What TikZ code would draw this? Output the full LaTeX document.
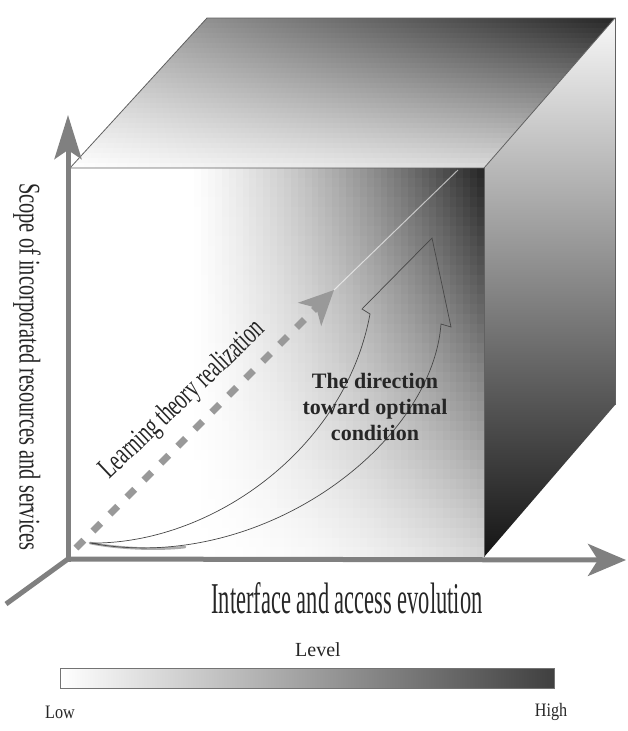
\documentclass[tikz,border=0pt]{standalone}
\usepackage{fontspec}
\setmainfont{Liberation Serif}
\usetikzlibrary{arrows.meta,shadings}

\begin{document}
\begin{tikzpicture}[x=1pt,y=1pt,
  edge/.style={draw=black!62, line width=0.8pt},
  axisline/.style={draw=black!50, line width=5pt},
  lbl/.style={text=black!85, inner sep=0pt},
  curvearrow/.style={draw=black!72, line width=0.7pt}]
\useasboundingbox (0,0) rectangle (627,-731);

% cube corners
\coordinate (FL) at (70,-168);
\coordinate (FR) at (484,-168);
\coordinate (BL) at (70,-557);
\coordinate (BR) at (484,-557);
\coordinate (TL) at (207,-18);
\coordinate (TR) at (615,-18);
\coordinate (RB) at (615,-405);

% top face: horizontal bands, darker towards the back and to the right
\begin{scope}
  \clip (FL) -- (FR) -- (TR) -- (TL) -- cycle;
  \foreach \j in {0,...,29} {
    \pgfmathsetmacro{\ya}{18+\j*5}
    \pgfmathsetmacro{\v}{(\j+0.5)/30}
    \pgfmathsetmacro{\dl}{30*(1-\v)}
    \pgfmathsetmacro{\dr}{85-66*\v}
    \shade[left color=black!\dl, right color=black!\dr]
      (70,-\ya) rectangle (615,-\ya-5.6);
  }
\end{scope}

% front face: white, with a grid of flat cells that darken towards the
% top right corner
\fill[white] (FL) rectangle (BR);
\begin{scope}
  \clip (FL) rectangle (BR);
  \foreach \i in {18,...,59} {
    \pgfmathsetmacro{\xa}{70+\i*6.9}
    \pgfmathsetmacro{\w}{max(0,((\i+0.5)/60-0.3)/0.7)}
    \pgfmathsetmacro{\dt}{86*\w*(0.6+0.4*\w)}
    \pgfmathsetmacro{\db}{16*\w*\w}
    \foreach \j in {0,...,39} {
      \pgfmathsetmacro{\ya}{168+\j*9.725}
      \pgfmathsetmacro{\dd}{\dt+(\db-\dt)*(\j+0.5)/40}
      \fill[black!\dd] (\xa,-\ya) rectangle (\xa+7.3,-\ya-10.1);
    }
  }
\end{scope}

% right face
\shade[top color=black!3, bottom color=black!92] (FR) -- (TR) -- (RB) -- (BR) -- cycle;

% cube edges
\draw[edge] (FL) -- (TL) -- (TR) -- (FR) -- cycle;
\draw[edge] (TR) -- (RB);
\draw[edge] (FR) -- (BR);

% axes
\coordinate (O) at (68,-559);
\coordinate (Obelow) at (68,-561.5);
\coordinate (Ytip) at (68,-115);
\coordinate (Xtip) at (626,-560);
\coordinate (Zend) at (6,-604);
\draw[axisline] (O) -- (Zend);
\draw[axisline, -{Stealth[length=44pt,width=27pt,inset=9pt]}] (Obelow) -- (Ytip);
\draw[axisline, -{Stealth[length=38pt,width=32pt,inset=10pt]}] (O) -- (Xtip);

% learning theory direction
\coordinate (Ds) at (76,-548);
\coordinate (Dt) at (334,-290);
\coordinate (Dc) at (458,-170);
\draw[white, opacity=0.6, line width=1pt] (Dt) -- (Dc);
\draw[black!40, line width=7pt, dash pattern=on 11pt off 13pt,
      -{Stealth[length=34pt,width=32pt,inset=9pt]}] (Ds) -- (Dt);

% hollow curved arrow
\coordinate (S) at (90,-543);
\coordinate (Ln) at (370,-314);
\coordinate (Lb) at (362,-309);
\coordinate (Tip) at (432,-238);
\coordinate (Rb) at (451,-327);
\coordinate (Rn) at (441,-324);
\coordinate (Se) at (185,-547);
\draw[black!60, line width=2.6pt, opacity=0.55, line cap=round]
  (S) .. controls (120,-549) and (160,-550) .. (Se);
\draw[curvearrow] (S) .. controls (210,-545) and (345,-450) .. (Ln)
  -- (Lb) -- (Tip) -- (Rb) -- (Rn) .. controls (432,-445) and (260,-575) .. (S);

% labels
\node[lbl, rotate=-90] (ylab) at (27,-367)
  {\fontsize{30}{30}\selectfont\scalebox{0.68}[1]{Scope of incorporated resources and services}};
\node[lbl] (xlab) at (347,-598)
  {\fontsize{44}{44}\selectfont\scalebox{0.51}[1]{Interface and access evolution}};
\node[lbl, rotate=43.5] (learn) at (183,-400)
  {\fontsize{30}{30}\selectfont\scalebox{0.66}[1]{Learning theory realization}};
\node[lbl, align=center, font=\fontsize{22}{26}\selectfont\bfseries] (dir) at (375,-407)
  {The direction\\toward optimal\\condition};

% level legend
\node[lbl] (level) at (318,-650) {\fontsize{20}{20}\selectfont Level};
\coordinate (barL) at (60,-668);
\coordinate (barR) at (554,-688);
\shade[left color=white, right color=black!75] (barL) rectangle (barR);
\draw[black!55, line width=0.8pt] (barL) rectangle (barR);
\node[lbl] (low) at (60,-712) {\fontsize{19}{19}\selectfont\scalebox{0.85}[1]{Low}};
\node[lbl] (high) at (551,-712) {\fontsize{19}{19}\selectfont\scalebox{0.85}[1]{High}};
\end{tikzpicture}
\end{document}
